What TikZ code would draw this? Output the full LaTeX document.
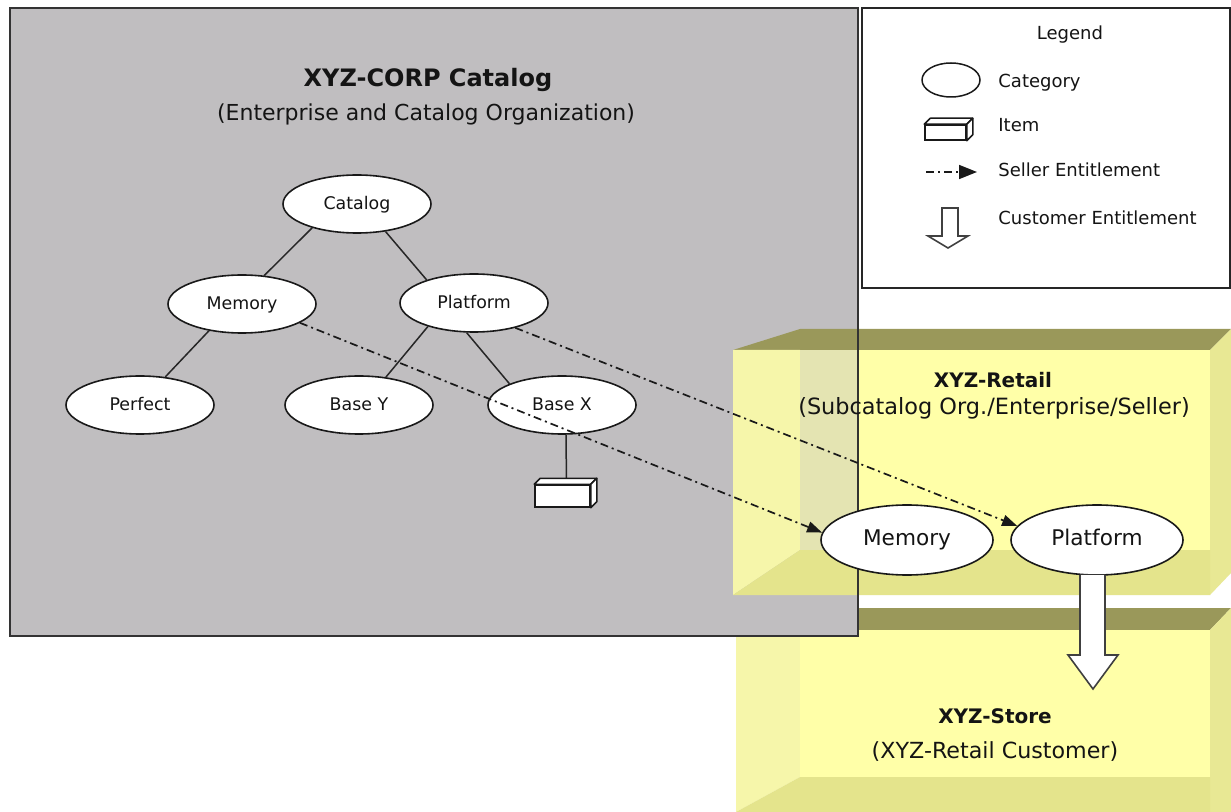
\documentclass[tikz,border=0pt]{standalone}
\usepackage{fontspec}
\setmainfont{DejaVu Sans}
\usetikzlibrary{shapes.geometric,arrows.meta,calc}
\definecolor{boxgray}{HTML}{C0BEC0}
\definecolor{ypanel}{HTML}{FFFFA8}
\definecolor{yleft}{HTML}{F6F6AA}
\definecolor{ytop}{HTML}{9A985A}
\definecolor{ybottom}{HTML}{E4E48C}
\definecolor{yright}{HTML}{E8E894}
\definecolor{inkc}{HTML}{141414}
\begin{document}
\begin{tikzpicture}[x=0.5pt,y=-0.5pt,
  cat/.style={ellipse,draw=black!90,line width=0.8pt,fill=white,minimum width=74pt,minimum height=29pt,inner sep=0pt,text=inkc,text height=0.75em,text depth=0.2em,font=\fontsize{8.7}{10}\selectfont},
  bigcat/.style={cat,minimum width=86pt,minimum height=35pt,font=\fontsize{10.8}{13}\selectfont},
  edge/.style={draw=black!85,line width=0.75pt},
  seller/.style={draw=black!90,line width=0.85pt,dash pattern=on 4pt off 2pt on 1pt off 2pt,-{Triangle[length=7.5pt,width=5.5pt]}},
  itembox/.style={rectangle,draw=black!90,line width=0.75pt,fill=white,inner sep=0pt},
  face/.style={draw=black!90,line width=0.75pt,fill=white,line join=round},
  bigarrow/.style={draw=black!75,line width=0.8pt,fill=white,line join=miter},
  lbl/.style={anchor=base west,inner sep=0pt,text=inkc,font=\fontsize{9}{11}\selectfont},
  ctext/.style={anchor=base,inner sep=0pt,text=inkc}
]
\useasboundingbox (0,0) rectangle (1231,812);
\fill[white] (0,0) rectangle (1231,812);

% XYZ-Store box (behind the catalog box)
\fill[ytop] (736,630) -- (800,608) -- (1231,608) -- (1210,630) -- cycle;
\fill[yright] (1210,630) -- (1231,608) -- (1231,812) -- (1210,812) -- cycle;
\fill[yleft] (736,630) -- (800,630) -- (800,777) -- (736,812) -- cycle;
\fill[ypanel] (800,630) rectangle (1210,777);
\fill[ybottom] (736,812) -- (800,777) -- (1210,777) -- (1210,812) -- cycle;

% catalog box
\fill[boxgray] (10,8) rectangle (858,636);

% XYZ-Retail box
\fill[ytop] (733,350) -- (800,329) -- (1231,329) -- (1210,350) -- cycle;
\fill[yright] (1210,350) -- (1231,329) -- (1231,573) -- (1210,595) -- cycle;
\fill[yleft] (733,350) -- (800,350) -- (800,550) -- (733,595) -- cycle;
\fill[ypanel] (800,350) rectangle (1210,550);
\fill[ypanel!58!boxgray] (800,350) rectangle (858,550);
\fill[ybottom] (733,595) -- (800,550) -- (1210,550) -- (1210,595) -- cycle;

% catalog box border
\draw[black!80,line width=1pt] (10,8) rectangle (858,636);

% legend box
\draw[black!85,line width=0.8pt,fill=white] (862,8) rectangle (1230,288);

% titles
\node[ctext,font=\bfseries\fontsize{12}{14}\selectfont] (title) at (428,87) {XYZ-CORP Catalog};
\node[ctext,font=\fontsize{11}{13}\selectfont] (subtitle) at (426,121) {(Enterprise and Catalog Organization)};

% category tree
\node[cat] (catalog) at (357,204) {Catalog};
\node[cat] (memory) at (242,304) {Memory};
\node[cat] (platform) at (474,303) {Platform};
\node[cat] (perfect) at (140,405) {Perfect};
\node[cat] (basey) at (359,405) {Base Y};
\node[cat] (basex) at (562,405) {Base X};

\draw[edge] (catalog.208) -- (memory.52);
\draw[edge] (catalog.316) -- (platform.154);
\draw[edge] (memory.219) -- (perfect.48);
\draw[edge] (platform.207) -- (basey.46);
\draw[edge] (platform.256) -- (basex.158);

% item
\node[itembox,minimum width=27.5pt,minimum height=11pt] (item) at (562.5,496) {};
\draw[edge] ([xshift=2pt]basex.south) -- ([xshift=2pt]item.north);
\draw[face] (item.north west) -- ++(6,-6) -- ($(item.north east)+(6,-6)$) -- (item.north east) -- cycle;
\draw[face] (item.north east) -- ++(6,-6) -- ($(item.south east)+(6,-6)$) -- (item.south east) -- cycle;
\node[itembox,minimum width=27.5pt,minimum height=11pt] at (item) {};

% retail texts
\node[ctext,font=\bfseries\fontsize{10}{12}\selectfont] (retailtitle) at (993,388) {XYZ-Retail};
\node[ctext,font=\fontsize{11.2}{13}\selectfont] (retailsub) at (994,415) {(Subcatalog Org./Enterprise/Seller)};

% store texts
\node[ctext,font=\bfseries\fontsize{10}{12}\selectfont] (storetitle) at (995,723) {XYZ-Store};
\node[ctext,font=\fontsize{11.1}{13}\selectfont] (storesub) at (995,758) {(XYZ-Retail Customer)};

% retail categories
\node[bigcat] (retailmem) at (907,540) {Memory};
\node[bigcat] (retailplat) at (1097,540) {Platform};

% customer entitlement arrow
\coordinate (storetip) at (1093,689);
\path[bigarrow] ($(retailplat.south)+(-17,-1)$) -- ($(storetip)+(-13,-34)$) -- ($(storetip)+(-25,-34)$) -- (storetip) -- ($(storetip)+(25,-34)$) -- ($(storetip)+(12,-34)$) -- ($(retailplat.south)+(8,-1)$);

% seller entitlements
\draw[seller] (memory.342) -- (retailmem.175);
\draw[seller] (platform.329) -- (retailplat.170);

% legend
\node[ctext,font=\fontsize{9}{11}\selectfont] (legendtitle) at (1070,40) {Legend};
\node[ellipse,draw=black!90,line width=0.75pt,fill=white,minimum width=29pt,minimum height=17pt,inner sep=0pt] (lcat) at (951,80) {};
\node[lbl] (lcattext) at (998,88) {Category};
\node[itembox,minimum width=20.5pt,minimum height=7.5pt] (litem) at (945.5,132.5) {};
\draw[face] (litem.north west) -- ++(6,-6) -- ($(litem.north east)+(6,-6)$) -- (litem.north east) -- cycle;
\draw[face] (litem.north east) -- ++(6,-6) -- ($(litem.south east)+(6,-6)$) -- (litem.south east) -- cycle;
\node[lbl] (litemtext) at (998,132) {Item};
\coordinate (lsa) at (926,172);
\coordinate (lsb) at (977,172);
\draw[seller,-{Triangle[length=9pt,width=7pt]}] (lsa) -- (lsb);
\node[lbl] (lselltext) at (998,177) {Seller Entitlement};
\coordinate (ltip) at (948,248);
\draw[bigarrow] ($(ltip)+(-6,-40)$) -- ($(ltip)+(-6,-12)$) -- ($(ltip)+(-20,-12)$) -- (ltip) -- ($(ltip)+(20,-12)$) -- ($(ltip)+(10,-12)$) -- ($(ltip)+(10,-40)$) -- cycle;
\node[lbl] (lcusttext) at (998,225) {Customer Entitlement};
\end{tikzpicture}
\end{document}
